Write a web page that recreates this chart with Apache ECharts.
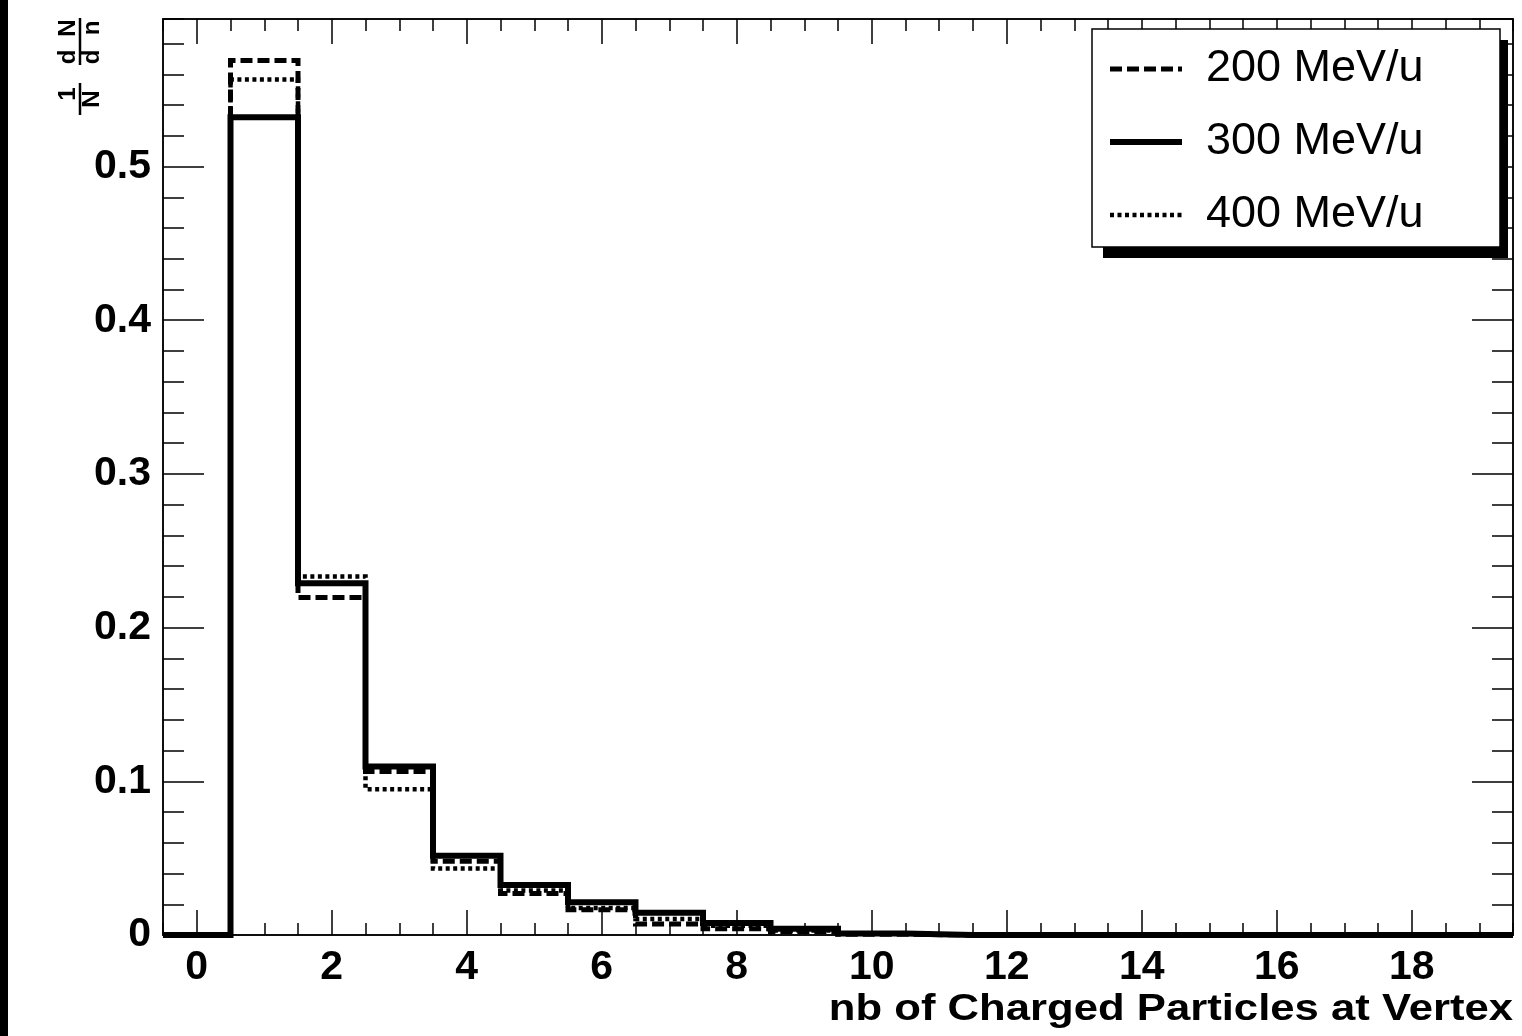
<!DOCTYPE html>
<html>
<head>
<meta charset="utf-8">
<script src="https://cdn.jsdelivr.net/npm/echarts@6/dist/echarts.min.js"></script>
<style>html,body{margin:0;padding:0;background:#fff;}#c{width:1522px;height:1036px;}</style>
</head>
<body>
<div id="c"></div>
<script>
// Bin centres (n = 0..19), bin width 1
const binCenters = [0,1,2,3,4,5,6,7,8,9,10,11,12,13,14,15,16,17,18,19];
const s200 = [0, 0.569, 0.2196, 0.1064, 0.048, 0.027, 0.0165, 0.0072, 0.0040, 0.0022, 0.0005, 0,0,0,0,0,0,0,0,0];
const s300 = [0, 0.532, 0.2289, 0.1096, 0.0515, 0.0325, 0.0213, 0.0145, 0.0078, 0.0040, 0.0010, 0,0,0,0,0,0,0,0,0];
const s400 = [0, 0.5567, 0.2333, 0.0949, 0.0432, 0.029, 0.0175, 0.0104, 0.0060, 0.0030, 0.0008, 0,0,0,0,0,0,0,0,0];
const seriesNames = ['200 MeV/u', '300 MeV/u', '400 MeV/u'];
const xMajorTicks = [0,2,4,6,8,10,12,14,16,18];
const xMinorTicks = [-0.5,0,0.5,1,1.5,2,2.5,3,3.5,4,4.5,5,5.5,6,6.5,7,7.5,8,8.5,9,9.5,10,10.5,11,11.5,12,12.5,13,13.5,14,14.5,15,15.5,16,16.5,17,17.5,18,18.5,19,19.5];
const xTitle = 'nb of Charged Particles at Vertex';

// histogram outline: step at bin edges
function histPoints(vals) {
  const pts = vals.map((v, i) => [binCenters[i] - 0.5, v]);
  pts.push([binCenters[binCenters.length - 1] + 0.5, vals[vals.length - 1]]);
  return pts;
}

const chart = echarts.init(document.getElementById('c'));
const labelFont = { fontFamily: 'Liberation Sans', fontWeight: 'bold', fontSize: 41, color: '#000' };
const X0 = -0.5, X1 = 19.5, Y0 = 0, Y1 = 0.596;

function xAx(pos, major, show) {
  return {
    type: 'value', position: pos, min: X0, max: X1,
    axisLine: { show: true, onZero: false, lineStyle: { color: '#000', width: 1.5 } },
    axisTick: { show: true, inside: true, length: major ? 25 : 12, customValues: major ? xMajorTicks : xMinorTicks, lineStyle: { color: '#000', width: 1.5 } },
    axisLabel: show ? Object.assign({ show: true, customValues: xMajorTicks, margin: 12 }, labelFont) : { show: false },
    splitLine: { show: false }
  };
}
function yAx(pos, major, show) {
  return {
    type: 'value', position: pos, min: Y0, max: Y1, interval: major ? 0.1 : 0.02,
    axisLine: { show: true, onZero: false, lineStyle: { color: '#000', width: 1.5 } },
    axisTick: { show: true, inside: true, length: major ? 41 : 21, lineStyle: { color: '#000', width: 1.5 } },
    axisLabel: show ? Object.assign({ show: true, margin: 12, showMaxLabel: false,
      formatter: v => (v === 0 ? '0' : v.toFixed(1)) }, labelFont) : { show: false },
    splitLine: { show: false }
  };
}

const styles = {
  '200 MeV/u': { width: 5, type: [12, 5] },
  '300 MeV/u': { width: 6, type: 'solid' },
  '400 MeV/u': { width: 4.5, type: [4, 3.5] }
};
const dataMap = { '200 MeV/u': s200, '300 MeV/u': s300, '400 MeV/u': s400 };
const drawOrder = ['300 MeV/u', '200 MeV/u', '400 MeV/u'];
const ttl = (t, x, y) => ({ type: 'text', x: x, y: y, style: { text: t, align: 'center', verticalAlign: 'middle', fontSize: 24, fontWeight: 'bold', fontFamily: 'Liberation Sans', fill: '#000' } });

chart.setOption({
  animation: false,
  backgroundColor: '#fff',
  grid: { left: 163, right: 9, top: 19, bottom: 101, containLabel: false },
  xAxis: [xAx('bottom', true, true), xAx('bottom', false, false), xAx('top', true, false), xAx('top', false, false)],
  yAxis: [yAx('left', true, true), yAx('left', false, false), yAx('right', true, false), yAx('right', false, false)],
  legend: {
    orient: 'vertical', left: 1092, top: 29,
    padding: [15, 10, 7, 15],
    itemWidth: 72, itemHeight: 14, itemGap: 23,
    backgroundColor: '#fff', borderColor: '#000', borderWidth: 1.5, borderRadius: 0,
    selectedMode: false,
    itemStyle: { opacity: 0 },
    textStyle: { fontFamily: 'Liberation Sans', fontSize: 45, color: '#000', lineHeight: 50, padding: [0, 0, 0, 19], width: 284 },
    data: seriesNames.map(n => ({ name: n, itemStyle: { opacity: 0 }, lineStyle: { width: styles[n].width, type: styles[n].type, color: '#000' } }))
  },
  series: drawOrder.map(name => ({
    name: name, type: 'line', step: 'end', symbol: 'none', clip: false,
    xAxisIndex: 0, yAxisIndex: 0,
    lineStyle: { color: '#000', width: styles[name].width, type: styles[name].type, cap: 'butt', join: 'miter' },
    itemStyle: { color: '#000' },
    data: histPoints(dataMap[name])
  })),
  graphic: [
    { type: 'rect', z: -10, shape: { x: 0, y: 0, width: 8, height: 1036 }, style: { fill: '#000' } },
    { type: 'rect', z: -10, shape: { x: 1103, y: 40, width: 405, height: 218 }, style: { fill: '#000' } },
    { type: 'text', x: 1513, y: 1010, scaleX: 1.18,
      style: { text: xTitle, align: 'right', verticalAlign: 'middle',
               fontSize: 37, fontWeight: 'bold', fontFamily: 'Liberation Sans', fill: '#000' } },
    { type: 'group', x: 80, y: 115, rotation: Math.PI / 2,
      children: [
        ttl('1', 21, -12),
        ttl('N', 16, 12),
        { type: 'line', shape: { x1: 0, y1: 0, x2: 32, y2: 0 }, style: { stroke: '#000', lineWidth: 2.5 } },
        ttl('d', 58, -12), ttl('N', 87, -12),
        ttl('d', 58, 12), ttl('n', 87, 12),
        { type: 'line', shape: { x1: 50, y1: 0, x2: 97, y2: 0 }, style: { stroke: '#000', lineWidth: 2.5 } }
      ] }
  ]
});
</script>
</body>
</html>
